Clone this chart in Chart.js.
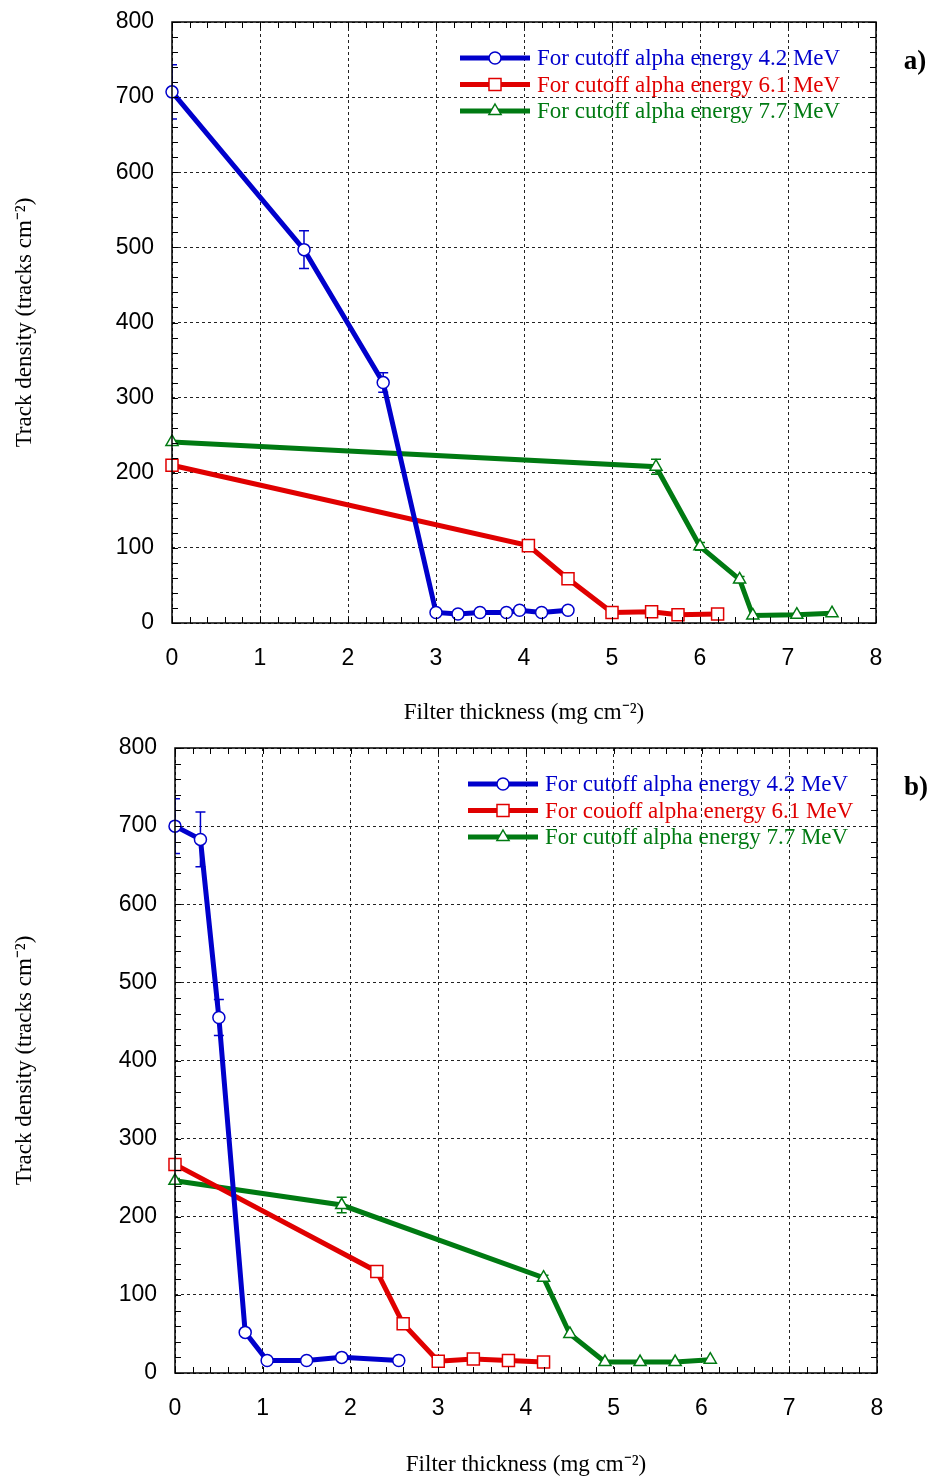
<!DOCTYPE html>
<html>
<head>
<meta charset="utf-8">
<script src="https://cdn.jsdelivr.net/npm/chart.js@4"></script>
<style>
  body { margin: 0; background: #fff; }
  .panel { position: absolute; left: 0; }
  #panelA { top: 0; }
  #panelB { top: 735px; }
</style>
</head>
<body>
<div class="panel" id="panelA"><canvas id="chartA" width="931" height="735"></canvas></div>
<div class="panel" id="panelB"><canvas id="chartB" width="931" height="744"></canvas></div>
<script>
// filter thickness (mg cm-2) vs track density (tracks cm-2), panel a)
const thickA42 = [0, 1.5, 2.4, 3.0, 3.25, 3.5, 3.8, 3.95, 4.2, 4.5];
const densA42  = [707, 497, 320, 14, 12, 14, 14, 17, 14, 17];
const errA42   = [36, 25, 13, 0, 0, 0, 0, 0, 0, 0];
const thickA61 = [0, 4.05, 4.5, 5.0, 5.45, 5.75, 6.2];
const densA61  = [210, 103, 59, 14, 15, 11, 12];
const thickA77 = [0, 5.5, 6.0, 6.45, 6.6, 7.1, 7.5];
const densA77  = [241, 208, 102, 58, 10, 11, 13];
const errA77   = [0, 10, 5, 4, 0, 0, 0];

// panel b)
const thickB42 = [0, 0.29, 0.5, 0.8, 1.05, 1.5, 1.9, 2.55];
const densB42  = [700, 683, 455, 52, 16, 16, 20, 16];
const errB42   = [35, 35, 23, 0, 0, 0, 0, 0];
const thickB61 = [0, 2.3, 2.6, 3.0, 3.4, 3.8, 4.2];
const densB61  = [267, 130, 63, 15, 18, 16, 14];
const thickB77 = [0, 1.9, 4.2, 4.5, 4.9, 5.3, 5.7, 6.1];
const densB77  = [246, 215, 122, 50, 14, 14, 14, 17];
const errB77   = [3, 10, 3, 0, 0, 0, 0, 0];

const labelsA = [
  'For cutoff alpha energy 4.2 MeV',
  'For cutoff alpha energy 6.1 MeV',
  'For cutoff alpha energy 7.7 MeV'
];
const labelsB = [
  'For cutoff alpha energy 4.2 MeV',
  'For couoff alpha energy 6.1 MeV',
  'For cutoff alpha energy 7.7 MeV'
];

const xRange = [0, 8];
const yRange = [0, 800];
const xTitle = 'Filter thickness (mg cm\u207B\u00B2)';
const yTitle = 'Track density (tracks cm\u207B\u00B2)';

const BLUE = '#0000cc';
const RED = '#e00000';
const GREEN = '#007a12';
const SERIF = '"Liberation Serif", "Times New Roman", serif';
const SANS = '"Liberation Sans", Arial, sans-serif';

const zip = (xs, ys) => xs.map((v, i) => ({ x: v, y: ys[i] }));

function series(label, xs, ys, errs, color, style, radius) {
  return {
    label: label,
    data: zip(xs, ys),
    errors: errs,
    borderColor: color,
    backgroundColor: '#fff',
    borderWidth: 5,
    pointStyle: style,
    pointRadius: radius,
    pointBorderWidth: 1.5,
    pointBorderColor: color,
    pointBackgroundColor: '#fff',
    tension: 0,
    clip: false
  };
}

function marker(ctx, style, x, y, r, color) {
  ctx.save();
  ctx.fillStyle = '#fff';
  ctx.strokeStyle = color;
  ctx.lineWidth = 1.5;
  ctx.beginPath();
  if (style === 'circle') {
    ctx.arc(x, y, r, 0, Math.PI * 2);
  } else if (style === 'rect') {
    const s = r * Math.SQRT1_2;
    ctx.rect(x - s, y - s, 2 * s, 2 * s);
  } else {
    ctx.moveTo(x, y - r);
    ctx.lineTo(x + r * 0.866, y + r * 0.5);
    ctx.lineTo(x - r * 0.866, y + r * 0.5);
    ctx.closePath();
  }
  ctx.fill();
  ctx.stroke();
  ctx.restore();
}

// error bars, box frame, inward minor ticks, in-plot legend and panel tag
const framePlugin = {
  id: 'frame',
  beforeDatasetsDraw(chart) {
    const { ctx, chartArea: a, scales: { x, y } } = chart;
    ctx.save();
    ctx.beginPath();
    ctx.rect(a.left, a.top, a.right - a.left, a.bottom - a.top);
    ctx.clip();
    chart.data.datasets.forEach(ds => {
      if (!ds.errors) return;
      ctx.strokeStyle = ds.borderColor;
      ctx.lineWidth = 1.5;
      ds.data.forEach((p, i) => {
        const e = ds.errors[i];
        if (!e) return;
        const px = x.getPixelForValue(p.x);
        const t = y.getPixelForValue(p.y + e);
        const b = y.getPixelForValue(p.y - e);
        ctx.beginPath();
        ctx.moveTo(px, t); ctx.lineTo(px, b);
        ctx.moveTo(px - 5, t); ctx.lineTo(px + 5, t);
        ctx.moveTo(px - 5, b); ctx.lineTo(px + 5, b);
        ctx.stroke();
      });
    });
    ctx.restore();
  },
  afterDraw(chart, args, opts) {
    const { ctx, chartArea: a, scales: { x, y } } = chart;
    ctx.save();
    ctx.strokeStyle = '#000';
    ctx.lineWidth = 1.5;
    ctx.strokeRect(a.left, a.top, a.right - a.left, a.bottom - a.top);

    ctx.lineWidth = 1;
    ctx.beginPath();
    for (let v = x.min; v <= x.max + 1e-9; v += opts.xMinor) {
      const px = Math.round(x.getPixelForValue(v)) + 0.5;
      ctx.moveTo(px, a.bottom); ctx.lineTo(px, a.bottom - 6);
      ctx.moveTo(px, a.top); ctx.lineTo(px, a.top + 6);
    }
    for (let v = y.min; v <= y.max + 1e-9; v += opts.yMinor) {
      const py = Math.round(y.getPixelForValue(v)) + 0.5;
      ctx.moveTo(a.left, py); ctx.lineTo(a.left + 6, py);
      ctx.moveTo(a.right, py); ctx.lineTo(a.right - 6, py);
    }
    ctx.stroke();

    // legend
    ctx.font = '23px ' + SERIF;
    ctx.textBaseline = 'middle';
    ctx.textAlign = 'left';
    chart.data.datasets.forEach((ds, i) => {
      const ly = a.top + opts.legendY + i * opts.legendGap;
      const lx = a.left + opts.legendX;
      ctx.strokeStyle = ds.borderColor;
      ctx.lineWidth = 5;
      ctx.beginPath();
      ctx.moveTo(lx, ly); ctx.lineTo(lx + 70, ly);
      ctx.stroke();
      marker(ctx, ds.pointStyle, lx + 35, ly, ds.pointRadius, ds.borderColor);
      ctx.fillStyle = ds.borderColor;
      ctx.fillText(ds.label, lx + 77, ly + 1);
    });

    ctx.fillStyle = '#000';
    ctx.font = 'bold 27px ' + SERIF;
    ctx.textAlign = 'center';
    ctx.fillText(opts.tag, a.right + 39, a.top + 40);
    ctx.restore();
  }
};

function buildChart(id, datasets, pad, yWidth, xHeight, tag, legendX, xTitlePad) {
  return new Chart(document.getElementById(id), {
    type: 'line',
    data: { datasets: datasets },
    plugins: [framePlugin],
    options: {
      responsive: false,
      animation: false,
      layout: { padding: pad },
      plugins: {
        legend: { display: false },
        tooltip: { enabled: false },
        frame: { xMinor: 0.2, yMinor: 20, legendX: legendX, legendY: 36, legendGap: 26.5, tag: tag }
      },
      scales: {
        x: {
          type: 'linear',
          min: xRange[0],
          max: xRange[1],
          afterFit: s => { s.height = xHeight; },
          ticks: { stepSize: 1, color: '#000', padding: 22, font: { family: SANS, size: 23 } },
          grid: { color: '#222', lineWidth: 1, drawTicks: false },
          border: { display: false, dash: [3, 3] },
          title: {
            display: true, text: xTitle, color: '#000',
            font: { family: SERIF, size: 23 }, padding: { top: 0, bottom: xTitlePad }
          }
        },
        y: {
          min: yRange[0],
          max: yRange[1],
          afterFit: s => {
            // keep the plot box where the layout padding puts it
            s.width = yWidth;
            s.paddingTop = 0;
            s.paddingBottom = 0;
          },
          ticks: { stepSize: 100, color: '#000', padding: 18, font: { family: SANS, size: 23 } },
          grid: { color: '#222', lineWidth: 1, drawTicks: false },
          border: { display: false, dash: [3, 3] },
          title: {
            display: true, text: yTitle, color: '#000',
            font: { family: SERIF, size: 23 }, padding: { top: 11, bottom: 0 }
          }
        }
      }
    }
  });
}

buildChart('chartA', [
  series(labelsA[0], thickA42, densA42, errA42, BLUE, 'circle', 6),
  series(labelsA[1], thickA61, densA61, null, RED, 'rect', 8.5),
  series(labelsA[2], thickA77, densA77, errA77, GREEN, 'triangle', 7)
], { left: 0, top: 22, right: 55, bottom: 0 }, 172, 112, 'a)', 288, 8);

buildChart('chartB', [
  series(labelsB[0], thickB42, densB42, errB42, BLUE, 'circle', 6),
  series(labelsB[1], thickB61, densB61, null, RED, 'rect', 8.5),
  series(labelsB[2], thickB77, densB77, errB77, GREEN, 'triangle', 7)
], { left: 0, top: 13, right: 54, bottom: 0 }, 175, 106, 'b)', 293, 0);
</script>
</body>
</html>
